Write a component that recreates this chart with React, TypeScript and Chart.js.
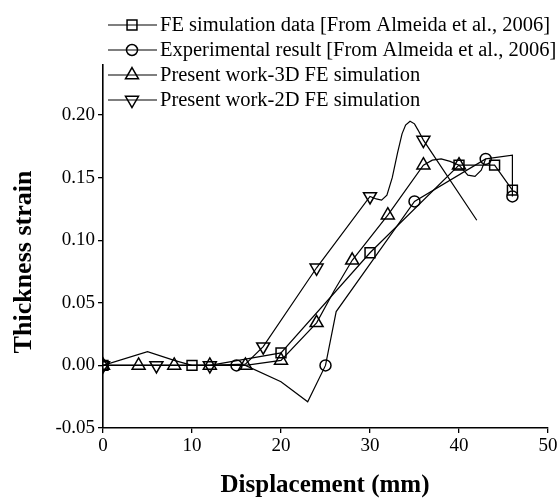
import React, { useEffect, useRef } from 'react';
import { Chart, registerables } from 'chart.js';

Chart.register(...registerables);

// ---- tick labels ----
const xTicks = [0, 10, 20, 30, 40, 50];
const yTicks = [-0.05, 0, 0.05, 0.1, 0.15, 0.2];

const legendLabels = [
  'FE simulation data [From Almeida et al., 2006]',
  'Experimental result [From Almeida et al., 2006]',
  'Present work-3D FE simulation',
  'Present work-2D FE simulation',
];

// ---- FE simulation data (Almeida) : squares ----
const feLineX = [0, 10, 12, 20, 30, 40, 44, 46];
const feLineY = [0, 0, 0, 0.01, 0.09, 0.16, 0.16, 0.14];
const feMarkX = [0, 10, 20, 30, 40, 44, 46];
const feMarkY = [0, 0, 0.01, 0.09, 0.16, 0.16, 0.14];

// ---- Experimental (Almeida) : circles ----
const expLineX = [0, 15, 16, 20, 23, 25, 26.2, 35, 43, 46, 46];
const expLineY = [0, 0, 0, -0.013, -0.029, 0, 0.043, 0.131, 0.165, 0.168, 0.135];
const expMarkX = [0, 15, 25, 35, 43, 46];
const expMarkY = [0, 0, 0, 0.131, 0.165, 0.135];

// ---- Present work 3D : up triangles ----
const t3LineX = [0, 4, 8, 12, 16, 20, 24, 26, 28, 32, 36, 37, 38, 39, 40, 41, 41.8, 42.5, 43];
const t3LineY = [0, 0, 0, 0, 0, 0.004, 0.034, 0.06, 0.084, 0.12, 0.16, 0.164, 0.165, 0.163, 0.16, 0.152, 0.151, 0.156, 0.165];
const t3MarkX = [0, 4, 8, 12, 16, 20, 24, 28, 32, 36, 40];
const t3MarkY = [0, 0, 0, 0, 0, 0.004, 0.034, 0.084, 0.12, 0.16, 0.16];

// ---- Present work 2D : down triangles ----
const t2LineX = [0, 5, 8, 10, 12, 16, 18, 24, 30, 30.7, 31.3, 31.9, 32.5, 33.1, 33.6, 34, 34.5, 35, 35.4, 36, 42];
const t2LineY = [0, 0.011, 0.004, 0, 0, 0.001, 0.015, 0.078, 0.135, 0.133, 0.132, 0.136, 0.15, 0.17, 0.185, 0.192, 0.195, 0.193, 0.188, 0.18, 0.116];
const t2MarkX = [0, 6, 12, 18, 24, 30, 36];
const t2MarkY = [0, 0, 0, 0.015, 0.078, 0.135, 0.18];

const pts = (xs: number[], ys: number[]) => xs.map((x, i) => ({ x, y: ys[i] }));

const FONT = '"Liberation Serif", "Times New Roman", serif';

type Marker = { style: string; rot: number; r: number };
const markers: Marker[] = [
  { style: 'rect', rot: 0, r: 7 },
  { style: 'circle', rot: 0, r: 5.5 },
  { style: 'triangle', rot: 0, r: 7.5 },
  { style: 'triangle', rot: 180, r: 7.5 },
];

function drawMarker(ctx: CanvasRenderingContext2D, m: Marker, x: number, y: number) {
  ctx.beginPath();
  if (m.style === 'rect') {
    const h = m.r * Math.SQRT1_2;
    ctx.rect(x - h, y - h, 2 * h, 2 * h);
  } else if (m.style === 'circle') {
    ctx.arc(x, y, m.r, 0, Math.PI * 2);
  } else {
    let rad = (m.rot * Math.PI) / 180;
    ctx.moveTo(x + Math.sin(rad) * m.r, y - Math.cos(rad) * m.r);
    rad += (2 * Math.PI) / 3;
    ctx.lineTo(x + Math.sin(rad) * m.r, y - Math.cos(rad) * m.r);
    rad += (2 * Math.PI) / 3;
    ctx.lineTo(x + Math.sin(rad) * m.r, y - Math.cos(rad) * m.r);
    ctx.closePath();
  }
  ctx.stroke();
}

const overlayPlugin = {
  id: 'overlay',
  afterDraw(chart: any) {
    const ctx: CanvasRenderingContext2D = chart.ctx;
    ctx.save();
    ctx.fillStyle = '#000';
    ctx.strokeStyle = '#000';
    // legend
    legendLabels.forEach((label, i) => {
      const y = 25 + i * 25;
      ctx.lineWidth = 1.2;
      ctx.beginPath();
      ctx.moveTo(108, y);
      ctx.lineTo(157, y);
      ctx.stroke();
      ctx.lineWidth = 1.5;
      drawMarker(ctx, markers[i], 132, y);
      ctx.font = `20.5px ${FONT}`;
      ctx.textAlign = 'left';
      ctx.textBaseline = 'middle';
      ctx.fillText(label, 160, y + 1);
    });
    // axis titles
    ctx.textAlign = 'center';
    ctx.textBaseline = 'middle';
    ctx.font = `bold 25px ${FONT}`;
    ctx.fillText('Displacement (mm)', 325, 486);
    ctx.font = `bold 26px ${FONT}`;
    ctx.save();
    ctx.translate(24, 262);
    ctx.rotate(-Math.PI / 2);
    ctx.fillText('Thickness strain', 0, 0);
    ctx.restore();
    ctx.restore();
  },
};

export default function App() {
  const ref = useRef<HTMLCanvasElement>(null);
  useEffect(() => {
    if (!ref.current) return;
    const lineDs = (xs: number[], ys: number[]) => ({
      data: pts(xs, ys),
      showLine: true,
      borderColor: '#000',
      borderWidth: 1.2,
      pointRadius: 0,
      tension: 0,
      order: 2,
    });
    const markDs = (xs: number[], ys: number[], m: Marker) => ({
      data: pts(xs, ys),
      showLine: false,
      pointStyle: m.style,
      rotation: m.rot,
      pointRadius: m.r,
      pointBorderWidth: 1.5,
      pointBorderColor: '#000',
      pointBackgroundColor: 'rgba(0,0,0,0)',
      borderColor: '#000',
      backgroundColor: 'rgba(0,0,0,0)',
      order: 1,
    });
    const chart = new Chart(ref.current, {
      type: 'scatter',
      data: {
        datasets: [
          lineDs(feLineX, feLineY),
          lineDs(expLineX, expLineY),
          lineDs(t3LineX, t3LineY),
          lineDs(t2LineX, t2LineY),
          markDs(feMarkX, feMarkY, markers[0]),
          markDs(expMarkX, expMarkY, markers[1]),
          markDs(t3MarkX, t3MarkY, markers[2]),
          markDs(t2MarkX, t2MarkY, markers[3]),
        ] as any,
      },
      options: {
        animation: false,
        responsive: false,
        maintainAspectRatio: false,
        devicePixelRatio: 1,
        layout: { padding: { top: 65, right: 12, left: 0, bottom: 0 } },
        plugins: { legend: { display: false }, tooltip: { enabled: false } },
        scales: {
          x: {
            type: 'linear',
            min: 0,
            max: 50,
            afterBuildTicks: (s: any) => {
              s.ticks = xTicks.map((v) => ({ value: v }));
            },
            afterFit: (s: any) => {
              s.height = 73;
            },
            ticks: {
              color: '#000',
              font: { family: FONT, size: 19 },
              padding: 2,
              maxRotation: 0,
              autoSkip: false,
              callback: (v: any) => String(v),
            },
            grid: { drawOnChartArea: false, drawTicks: true, tickLength: 5, color: '#000', lineWidth: 1.3 },
            border: { display: true, color: '#000', width: 1.6 },
          },
          y: {
            type: 'linear',
            min: -0.05,
            max: 0.24,
            afterBuildTicks: (s: any) => {
              s.ticks = yTicks.map((v) => ({ value: v }));
            },
            afterFit: (s: any) => {
              s.width = 103;
            },
            ticks: {
              color: '#000',
              font: { family: FONT, size: 19 },
              padding: 3,
              autoSkip: false,
              callback: (v: any) => Number(v).toFixed(2),
            },
            grid: { drawOnChartArea: false, drawTicks: true, tickLength: 5, color: '#000', lineWidth: 1.3 },
            border: { display: true, color: '#000', width: 1.6 },
          },
        },
      },
      plugins: [overlayPlugin],
    });
    return () => chart.destroy();
  }, []);
  return (
    <div style={{ position: 'fixed', left: 0, top: 0, width: 560, height: 501, background: '#fff' }}>
      <canvas ref={ref} width={560} height={501} style={{ display: 'block', width: 560, height: 501 }} />
    </div>
  );
}
